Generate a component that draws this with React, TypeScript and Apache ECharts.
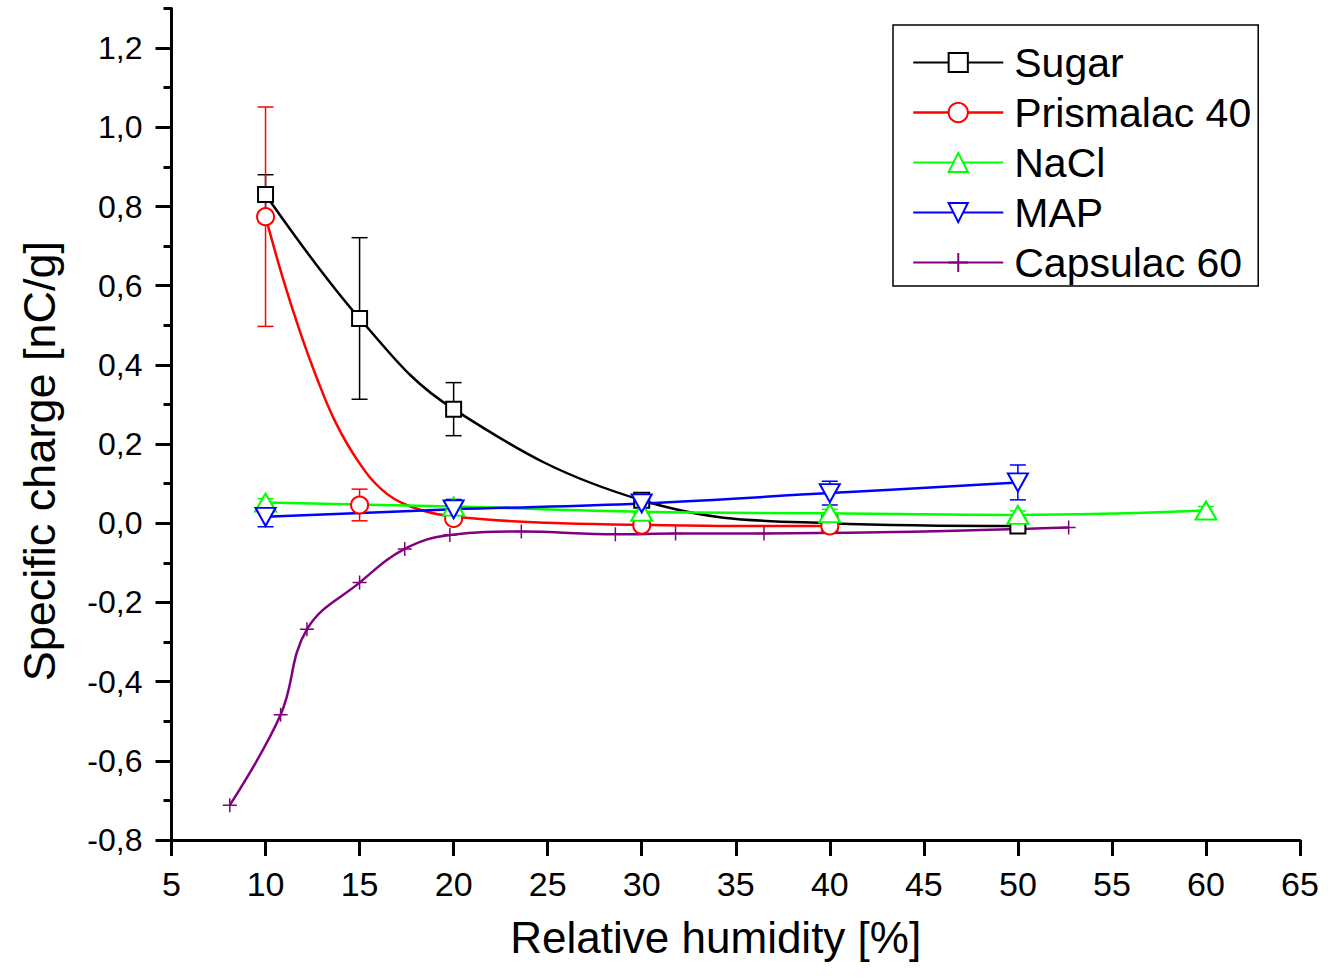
import React, { useEffect, useRef } from "react";
import * as echarts from "echarts";

// ---- data ----
const sugarX = [10, 15, 20, 30, 40, 50];
const sugarY = [0.83, 0.517, 0.288, 0.058, 0.0, -0.007];
const sugarErr = [0.05, 0.204, 0.067, 0.008, 0.008, 0.008];

const prismX = [10, 15, 20, 30, 40];
const prismY = [0.774, 0.046, 0.012, -0.005, -0.007];
const prismErr = [0.277, 0.04, 0.01, 0.01, 0.01];
// fitted curve drawn through the Prismalac points
const prismFitX = [10, 10.9, 11.8, 12.7, 13.75, 15, 16.2, 17.5, 19.8, 25, 30, 35, 40];
const prismFitY = [0.774, 0.622, 0.488, 0.37, 0.252, 0.151, 0.084, 0.046, 0.018, 0.001, -0.004, -0.007, -0.007];

const naclX = [10, 20, 30, 40, 50, 60];
const naclY = [0.052, 0.042, 0.029, 0.025, 0.021, 0.032];
const naclErr = [0.01, 0.01, 0.01, 0.01, 0.01, 0.01];

const mapX = [10, 20, 30, 40, 50];
const mapY = [0.016, 0.035, 0.05, 0.076, 0.103];
const mapErr = [0.025, 0.025, 0.025, 0.03, 0.044];

const capX = [8.1, 10.8, 12.2, 15.0, 17.4, 19.8, 23.6, 28.6, 31.8, 36.5, 52.7];
const capY = [-0.712, -0.484, -0.268, -0.15, -0.065, -0.03, -0.021, -0.028, -0.026, -0.026, -0.011];

const seriesNames = ["Sugar", "Prismalac 40", "NaCl", "MAP", "Capsulac 60"];
const xTicks = { min: 5, max: 65, interval: 5 };
const yTicks = { min: -0.8, max: 1.2, top: 1.3, interval: 0.2, minor: 0.1 };

const FONT = "'Liberation Sans', Arial, sans-serif";
const BLACK = "#000000";
const RED = "#FF0000";
const GREEN = "#00FF00";
const BLUE = "#0000FF";
const PURPLE = "#800080";

const pairs = (xs: number[], ys: number[]) => xs.map((x, i) => [x, ys[i]]);
const errPairs = (xs: number[], ys: number[], es: number[]) =>
  xs.map((x, i) => [x, ys[i] - es[i], ys[i] + es[i]]);

function errorSeries(name: string, data: number[][], color: string) {
  return {
    name,
    type: "custom",
    xAxisIndex: 0,
    yAxisIndex: 0,
    z: 1,
    silent: true,
    encode: { x: 0, y: [1, 2] },
    data,
    renderItem: (params: any, api: any) => {
      const x = api.value(0);
      const lo = api.value(1);
      const hi = api.value(2);
      const p1 = api.coord([x, hi]);
      const p2 = api.coord([x, lo]);
      const hw = 8;
      const style = { stroke: color, lineWidth: 1.5 };
      return {
        type: "group",
        children: [
          { type: "line", shape: { x1: p1[0], y1: p1[1], x2: p2[0], y2: p2[1] }, style },
          { type: "line", shape: { x1: p1[0] - hw, y1: p1[1], x2: p1[0] + hw, y2: p1[1] }, style },
          { type: "line", shape: { x1: p2[0] - hw, y1: p2[1], x2: p2[0] + hw, y2: p2[1] }, style },
        ],
      };
    },
  };
}

export default function App() {
  const ref = useRef<HTMLDivElement>(null);

  useEffect(() => {
    document.body.style.margin = "0";
    if (!ref.current) return;
    const chart = echarts.init(ref.current, undefined, { renderer: "svg" });

    const gridBase = { left: 171.5, right: 28, bottom: 137 };
    const lineCommon = {
      type: "line",
      xAxisIndex: 0,
      yAxisIndex: 0,
      z: 2,
      smooth: 0.4,
    };

    const option: any = {
      animation: false,
      backgroundColor: "#ffffff",
      textStyle: { fontFamily: FONT, color: BLACK },
      grid: [
        { ...gridBase, top: 8.4 },
        { ...gridBase, top: 48.2 },
      ],
      legend: {
        orient: "vertical",
        left: 893,
        top: 25,
        width: 365,
        backgroundColor: "#ffffff",
        borderColor: BLACK,
        borderWidth: 1.5,
        padding: [17, 7, 3, 19],
        itemWidth: 90,
        itemHeight: 24,
        itemGap: 9,
        selectedMode: false,
        textStyle: {
          fontFamily: FONT,
          fontSize: 41,
          lineHeight: 40,
          color: BLACK,
          padding: [0, 0, 0, 6],
        },
        data: [
          { name: "Sugar" },
          { name: "Prismalac 40", lineStyle: { color: RED, width: 2.5, opacity: 1 } },
          { name: "NaCl" },
          { name: "MAP" },
          { name: "Capsulac 60" },
        ],
      },
      xAxis: [
        {
          type: "value",
          gridIndex: 0,
          min: xTicks.min,
          max: xTicks.max,
          interval: xTicks.interval,
          name: "Relative humidity [%]",
          nameLocation: "middle",
          nameGap: 75,
          nameTextStyle: { fontSize: 44, fontFamily: FONT, color: BLACK, padding: [0, 40, 0, 0] },
          axisLine: { show: true, onZero: false, lineStyle: { color: BLACK, width: 3 } },
          axisTick: { show: true, length: 16, lineStyle: { color: BLACK, width: 3 } },
          axisLabel: { fontSize: 34, fontFamily: FONT, color: BLACK, margin: 27 },
          splitLine: { show: false },
        },
        {
          type: "value",
          gridIndex: 1,
          min: xTicks.min,
          max: xTicks.max,
          show: false,
        },
      ],
      yAxis: [
        {
          type: "value",
          gridIndex: 0,
          min: yTicks.min,
          max: yTicks.top,
          interval: yTicks.minor,
          axisLine: { show: true, onZero: false, lineStyle: { color: BLACK, width: 3 } },
          axisTick: { show: true, length: 8, lineStyle: { color: BLACK, width: 3 } },
          axisLabel: { show: false },
          splitLine: { show: false },
        },
        {
          type: "value",
          gridIndex: 1,
          min: yTicks.min,
          max: yTicks.max,
          interval: yTicks.interval,
          name: "Specific charge [nC/g]",
          nameLocation: "middle",
          nameGap: 110,
          nameRotate: 90,
          nameTextStyle: { fontSize: 45, fontFamily: FONT, color: BLACK, padding: [0, 34, 0, 0] },
          axisLine: { show: false },
          axisTick: { show: true, length: 16, lineStyle: { color: BLACK, width: 3 } },
          axisLabel: {
            fontSize: 32,
            fontFamily: FONT,
            color: BLACK,
            margin: 29,
            formatter: (v: number) => v.toFixed(1).replace(".", ","),
          },
          splitLine: { show: false },
        },
      ],
      series: [
        errorSeries("Sugar err", errPairs(sugarX, sugarY, sugarErr), BLACK),
        errorSeries("Prismalac err", errPairs(prismX, prismY, prismErr), RED),
        errorSeries("NaCl err", errPairs(naclX, naclY, naclErr), GREEN),
        errorSeries("MAP err", errPairs(mapX, mapY, mapErr), BLUE),
        {
          ...lineCommon,
          name: "Sugar",
          data: pairs(sugarX, sugarY),
          symbol: "emptyRect",
          symbolSize: 15,
          lineStyle: { color: BLACK, width: 2.5 },
          itemStyle: { color: BLACK },
        },
        {
          ...lineCommon,
          name: "Prismalac 40 fit",
          data: pairs(prismFitX, prismFitY),
          showSymbol: false,
          symbol: "none",
          lineStyle: { color: RED, width: 2.5 },
          itemStyle: { color: RED },
        },
        {
          ...lineCommon,
          name: "Prismalac 40",
          data: pairs(prismX, prismY),
          symbol: "emptyCircle",
          symbolSize: 17,
          lineStyle: { color: RED, width: 0, opacity: 0 },
          itemStyle: { color: RED },
        },
        {
          ...lineCommon,
          name: "NaCl",
          data: pairs(naclX, naclY),
          symbol: "emptyTriangle",
          symbolSize: [21, 18],
          lineStyle: { color: GREEN, width: 2.5 },
          itemStyle: { color: GREEN },
        },
        {
          ...lineCommon,
          name: "MAP",
          data: pairs(mapX, mapY),
          symbol: "emptyTriangle",
          symbolRotate: 180,
          symbolSize: [20, 18],
          lineStyle: { color: BLUE, width: 2.5 },
          itemStyle: { color: BLUE },
        },
        {
          ...lineCommon,
          name: "Capsulac 60",
          data: pairs(capX, capY),
          symbol: "path://M5,0 L5,10 M0,5 L10,5",
          symbolSize: 14,
          lineStyle: { color: PURPLE, width: 2.5 },
          itemStyle: { color: PURPLE, borderColor: PURPLE, borderWidth: 1.5 },
        },
      ],
    };

    chart.setOption(option);
    return () => chart.dispose();
  }, []);

  return <div ref={ref} style={{ width: 1328, height: 977 }} />;
}
